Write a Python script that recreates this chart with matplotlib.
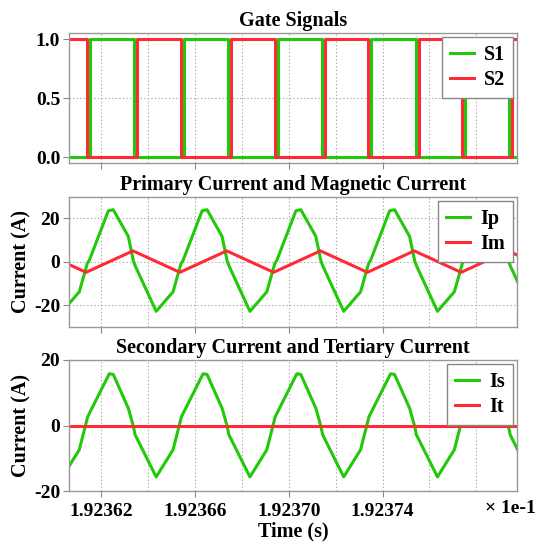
import matplotlib
matplotlib.use('Agg')
import matplotlib.pyplot as plt
from matplotlib.ticker import FixedLocator, MultipleLocator

plt.rcParams['font.family'] = ['Liberation Serif', 'DejaVu Serif']
plt.rcParams['font.weight'] = 'bold'
plt.rcParams['axes.unicode_minus'] = False

GREEN = '#22c80a'
RED = '#ff2a36'

# time axis is in units of 1e-1 s (as shown by the "x 1e-1" label)
x_lim = (1.923606, 1.9237975)
x_ticks = [1.92362, 1.92366, 1.92370, 1.92374]
x_tick_labels = ['1.92362', '1.92366', '1.92370', '1.92374']

# gate signals (switching instants)
s1_t = [1.92360, 1.9236152, 1.9236341, 1.9236552, 1.9236741, 1.9236952, 1.9237141,
        1.9237352, 1.9237541, 1.9237752, 1.9237941, 1.92380]
s1_v = [0, 1, 0, 1, 0, 1, 0, 1, 0, 1, 0, 0]
s2_t = [1.92360, 1.9236139, 1.9236354, 1.9236539, 1.9236754, 1.9236939, 1.9237154,
        1.9237339, 1.9237554, 1.9237739, 1.9237954, 1.92380]
s2_v = [1, 0, 1, 0, 1, 0, 1, 0, 1, 0, 1, 1]

# primary current
ip_t = [1.9236034,
        1.9236106, 1.9236140, 1.9236149, 1.9236230, 1.9236251, 1.9236315, 1.9236337, 1.9236345, 1.9236434,
        1.9236506, 1.9236540, 1.9236549, 1.9236630, 1.9236651, 1.9236715, 1.9236737, 1.9236745, 1.9236834,
        1.9236906, 1.9236940, 1.9236949, 1.9237030, 1.9237051, 1.9237115, 1.9237137, 1.9237145, 1.9237234,
        1.9237306, 1.9237340, 1.9237349, 1.9237430, 1.9237451, 1.9237515, 1.9237537, 1.9237545, 1.9237634,
        1.9237706, 1.9237740, 1.9237749, 1.9237830, 1.9237851, 1.9237915, 1.9237937, 1.9237945, 1.9238034]
ip_v = [-22.9,
        -13.9, -0.9, 0.7, 23.5, 24.0, 11.7, 0.3, -2.0, -22.9,
        -13.9, -0.9, 0.7, 23.5, 24.0, 11.7, 0.3, -2.0, -22.9,
        -13.9, -0.9, 0.7, 23.5, 24.0, 11.7, 0.3, -2.0, -22.9,
        -13.9, -0.9, 0.7, 23.5, 24.0, 11.7, 0.3, -2.0, -22.9,
        -13.9, -0.9, 0.7, 23.5, 24.0, 11.7, 0.3, -2.0, -22.9]

# magnetising current
im_t = [1.9235935, 1.9236135, 1.9236335, 1.9236535, 1.9236735, 1.9236935, 1.9237135,
        1.9237335, 1.9237535, 1.9237735, 1.9237935, 1.9238135]
im_v = [5.0, -4.9, 5.0, -4.9, 5.0, -4.9, 5.0, -4.9, 5.0, -4.9, 5.0, -4.9]

# secondary current
is_t = [1.9236034,
        1.9236106, 1.9236142, 1.9236234, 1.9236251, 1.9236315, 1.9236337, 1.9236344, 1.9236434,
        1.9236506, 1.9236542, 1.9236634, 1.9236651, 1.9236715, 1.9236737, 1.9236744, 1.9236834,
        1.9236906, 1.9236942, 1.9237034, 1.9237051, 1.9237115, 1.9237137, 1.9237144, 1.9237234,
        1.9237306, 1.9237342, 1.9237434, 1.9237451, 1.9237515, 1.9237537, 1.9237544, 1.9237634,
        1.9237706, 1.9237742, 1.9237834, 1.9237851, 1.9237915, 1.9237937, 1.9237944, 1.9238034]
is_v = [-15.7,
        -7.4, 2.7, 15.8, 15.6, 5.3, -0.3, -2.8, -15.7,
        -7.4, 2.7, 15.8, 15.6, 5.3, -0.3, -2.8, -15.7,
        -7.4, 2.7, 15.8, 15.6, 5.3, -0.3, -2.8, -15.7,
        -7.4, 2.7, 15.8, 15.6, 5.3, -0.3, -2.8, -15.7,
        -7.4, 2.7, 15.8, 15.6, 5.3, -0.3, -2.8, -15.7]

# tertiary current
it_t = [1.92360, 1.92380]
it_v = [0.0, 0.0]

fig = plt.figure(figsize=(5.36, 5.44), dpi=100)
W, H = 536.0, 544.0
left, right = 68.5, 517.4
ax1 = fig.add_axes([left / W, 1 - 163.3 / H, (right - left) / W, 130 / H])
ax2 = fig.add_axes([left / W, 1 - 326.7 / H, (right - left) / W, 130 / H])
ax3 = fig.add_axes([left / W, 1 - 491.0 / H, (right - left) / W, 131 / H])

lw = 2.2
ax1.plot(s1_t, s1_v, drawstyle='steps-post', color=GREEN, lw=lw, label='S1')
ax1.plot(s2_t, s2_v, drawstyle='steps-post', color=RED, lw=lw, label='S2')
ax1.set_ylim(-0.05, 1.05)
ax1.set_yticks([0.0, 0.5, 1.0])
ax1.set_yticklabels(['0.0', '0.5', '1.0'])
ax1.set_title('Gate Signals', fontsize=14.5, fontweight='bold', pad=5)

ax2.plot(ip_t, ip_v, color=GREEN, lw=lw, label='Ip')
ax2.plot(im_t, im_v, color=RED, lw=lw, label='Im')
ax2.set_ylim(-30, 30)
ax2.set_yticks([-20, 0, 20])
ax2.set_yticklabels(['-20', '0', '20'])
ax2.set_ylabel('Current (A)', fontsize=14.5, fontweight='bold', labelpad=2)
ax2.set_title('Primary Current and Magnetic Current', fontsize=14.5, fontweight='bold', pad=5)

ax3.plot(is_t, is_v, color=GREEN, lw=lw, label='Is')
ax3.plot(it_t, it_v, color=RED, lw=lw, label='It')
ax3.set_ylim(-20, 20)
ax3.set_yticks([-20, 0, 20])
ax3.set_yticklabels(['-20', '0', '20'])
ax3.set_ylabel('Current (A)', fontsize=14.5, fontweight='bold', labelpad=2)
ax3.set_title('Secondary Current and Tertiary Current', fontsize=14.5, fontweight='bold', pad=5)
ax3.set_xlabel('Time (s)', fontsize=14.5, fontweight='bold', labelpad=1)

for ax in (ax1, ax2, ax3):
    ax.set_xlim(*x_lim)
    ax.xaxis.set_major_locator(FixedLocator(x_ticks))
    ax.xaxis.set_minor_locator(MultipleLocator(0.00002))
    ax.grid(True, which='both', axis='x', linestyle=(0, (1.2, 2.0)), color='#aaaaaa', lw=0.8)
    ax.grid(True, which='major', axis='y', linestyle=(0, (1.2, 2.0)), color='#aaaaaa', lw=0.8)
    ax.set_axisbelow(True)
    ax.tick_params(which='major', length=4, width=0.8, color='#888888', labelsize=14, pad=2)
    ax.tick_params(which='minor', length=0)
    for sp in ax.spines.values():
        sp.set_color('#999999')
        sp.set_linewidth(1.0)
    leg = ax.legend(loc='upper right', fontsize=14.5, fancybox=False, framealpha=1,
                    edgecolor='#888888', borderpad=0.4, labelspacing=0.25,
                    handlelength=1.2, handletextpad=0.5, borderaxespad=0.2)
    leg.get_frame().set_linewidth(1.0)
    for t in leg.get_texts():
        t.set_fontweight('bold')

ax1.set_xticklabels([])
ax2.set_xticklabels([])
ax3.set_xticklabels(x_tick_labels)
ax3.tick_params(axis='x', pad=5)

fig.text(0.999, 1 - 500 / H, '\u00d7 1e-1', ha='right', va='top', fontsize=14, fontweight='bold')

fig.savefig('out.png', dpi=100)
